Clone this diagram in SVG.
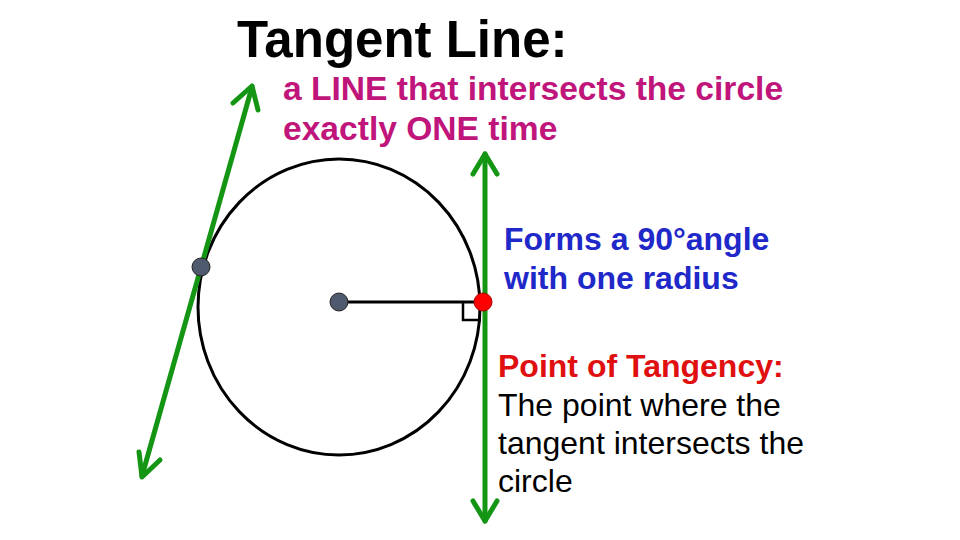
<svg xmlns="http://www.w3.org/2000/svg" width="960" height="540" viewBox="0 0 960 540">
<style>
.g{stroke:#149614;stroke-width:5;fill:none;stroke-linecap:round;stroke-linejoin:round}
.k{stroke:#000;stroke-width:3;fill:none}
text{font-family:"Liberation Sans",Arial,sans-serif;font-size:32px}
.t{font-size:51px;font-weight:bold}
.m{font-size:33.6px;font-weight:bold;fill:#c0157a}
</style>
<rect width="960" height="540" fill="#fff"/>
<g id="circle"><ellipse class="k" cx="339" cy="307" rx="141" ry="148"/></g>
<g id="radius"><line class="k" x1="339" y1="302" x2="483" y2="302"/><polyline stroke="#000" stroke-width="2.5" fill="none" points="463,303 463,320 481,320"/></g>
<g id="connectors">
<line class="g" x1="252" y1="87" x2="142" y2="476"/>
<polyline class="g" points="233,103 252,86 258,110"/>
<polyline class="g" points="139,452 142,477 160,460"/>
<line class="g" x1="485" y1="154" x2="485" y2="521"/>
<polyline class="g" points="473,174 485,154 497,174"/>
<polyline class="g" points="473,501 485,521 497,501"/>
</g>
<g id="points">
<circle cx="201" cy="267" r="9" fill="#4f5a6e" stroke="#222" stroke-width="1"/>
<circle cx="339" cy="302" r="9" fill="#4f5a6e" stroke="#222" stroke-width="1"/>
<circle cx="483" cy="302" r="9" fill="#ff0000" stroke="#a00" stroke-width="1"/>
</g>
<g id="labels">
<text x="237" y="57" class="t">Tangent Line:</text>
<text x="283" y="100" class="m">a LINE that intersects the circle</text>
<text x="283" y="140" class="m">exactly ONE time</text>
<text x="504" y="250" font-weight="bold" fill="#1f28c8">Forms a 90°angle</text>
<text x="504" y="289" font-weight="bold" fill="#1f28c8">with one radius</text>
<text x="498" y="377" font-weight="bold" fill="#e01010">Point of Tangency:</text>
<text x="498" y="416">The point where the</text>
<text x="498" y="454">tangent intersects the</text>
<text x="498" y="492">circle</text>
</g>
</svg>
